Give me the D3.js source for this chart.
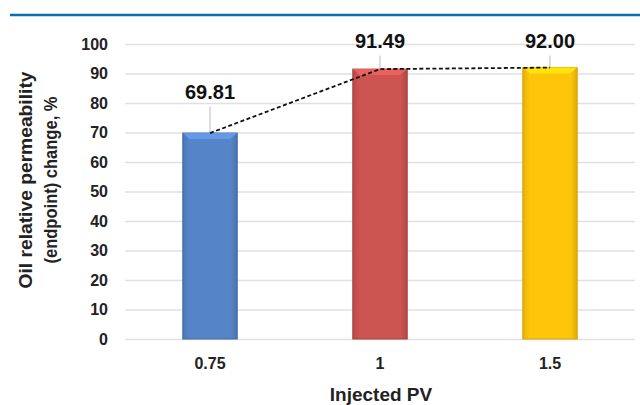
<!DOCTYPE html>
<html><head><meta charset="utf-8">
<script src="https://cdn.jsdelivr.net/npm/d3@7"></script>
<style>body{margin:0;background:#fff}svg{display:block}</style>
</head><body>
<script>
const categories = ["0.75", "1", "1.5"];
const values = [69.81, 91.49, 92.00];
const labels = ["69.81", "91.49", "92.00"];
const yTicks = [0, 10, 20, 30, 40, 50, 60, 70, 80, 90, 100];
const barColors = ["#5585c8", "#cc5451", "#ffc50a"];
const barDark = ["#3b68a8", "#a83e3b", "#d9a300"];

const W = 640, H = 405;
const svg = d3.select("body").append("svg").attr("width", W).attr("height", H)
  .style("font-family", "'Liberation Sans', Arial, sans-serif");

svg.append("line").attr("x1", 10).attr("x2", 640).attr("y1", 15).attr("y2", 15)
  .attr("stroke", "#0a6eb4").attr("stroke-width", 2.5);

const x = d3.scaleBand().domain(categories).range([125, 635]).paddingInner(0.68).paddingOuter(0.34);
const y = d3.scaleLinear().domain([0, 100]).range([339, 44]);

// gridlines
const yAxis = d3.axisLeft(y).tickValues(yTicks).tickSize(-(635 - 125)).tickPadding(17);
const gy = svg.append("g").attr("transform", "translate(125,0)").call(yAxis);
gy.select(".domain").remove();
gy.selectAll(".tick line").attr("stroke", "#e0e0e0").attr("stroke-width", 1.3);
gy.selectAll(".tick text").attr("fill", "#222").style("font-size", "16px").style("font-weight", "bold");

// x axis labels
const xAxis = d3.axisBottom(x).tickSize(0).tickPadding(19);
const gx = svg.append("g").attr("transform", "translate(0,339)").call(xAxis);
gx.select(".domain").remove();
gx.selectAll(".tick text").attr("fill", "#222").style("font-size", "16px").style("font-weight", "bold");

// gradients
const defs = svg.append("defs");
barColors.forEach((c, i) => {
  const g = defs.append("linearGradient").attr("id", "g" + i).attr("x1", 0).attr("x2", 1).attr("y1", 0).attr("y2", 0);
  g.append("stop").attr("offset", "0%").attr("stop-color", d3.color(c).darker(0.3));
  g.append("stop").attr("offset", "12%").attr("stop-color", c);
  g.append("stop").attr("offset", "88%").attr("stop-color", c);
  g.append("stop").attr("offset", "100%").attr("stop-color", d3.color(c).darker(0.4));
});

const bars = svg.append("g").selectAll("g").data(values).join("g");
bars.append("rect")
  .attr("x", (d, i) => x(categories[i]))
  .attr("y", d => y(d))
  .attr("width", x.bandwidth())
  .attr("height", d => y(0) - y(d))
  .attr("fill", (d, i) => `url(#g${i})`)
  .attr("stroke", (d, i) => barDark[i]).attr("stroke-width", 1);
// bevel top
bars.append("path")
  .attr("d", (d, i) => {
    const x0 = x(categories[i]), x1 = x0 + x.bandwidth(), t = y(d);
    return `M${x0},${t}L${x1},${t}L${x1 - 7},${t + 6}L${x0 + 7},${t + 6}Z`;
  })
  .attr("fill", (d, i) => d3.color(barColors[i]).brighter(0.5)).attr("opacity", 0.8);

// leader lines
const labelY = [91.5, 40.5, 40.5];
svg.append("g").selectAll("line").data(values).join("line")
  .attr("x1", (d, i) => x(categories[i]) + x.bandwidth() / 2)
  .attr("x2", (d, i) => x(categories[i]) + x.bandwidth() / 2)
  .attr("y1", (d, i) => labelY[i] + 15)
  .attr("y2", d => y(d))
  .attr("stroke", "#bbb").attr("stroke-width", 1);

// dashed line
const line = d3.line().x((d, i) => x(categories[i]) + x.bandwidth() / 2).y(d => y(d));
svg.append("path").datum(values).attr("d", line)
  .attr("fill", "none").attr("stroke", "#111").attr("stroke-width", 1.8).attr("stroke-dasharray", "4,2.5");

// value labels
svg.append("g").selectAll("text").data(labels).join("text")
  .attr("x", (d, i) => x(categories[i]) + x.bandwidth() / 2)
  .attr("y", (d, i) => labelY[i])
  .attr("dy", "0.35em").attr("text-anchor", "middle")
  .attr("fill", "#111").style("font-size", "20px").style("font-weight", "bold")
  .text(d => d);

// axis titles
svg.append("text").attr("x", 381).attr("y", 401).attr("text-anchor", "middle")
  .attr("fill", "#222").style("font-size", "19px").style("font-weight", "bold").text("Injected PV");
const yt = svg.append("text").attr("transform", "translate(0,180) rotate(-90)")
  .attr("text-anchor", "middle").attr("fill", "#222").style("font-size", "19px").style("font-weight", "bold");
yt.append("tspan").attr("x", 0).attr("y", 32).attr("textLength", 217).attr("lengthAdjust", "spacingAndGlyphs").text("Oil relative permeability");
yt.append("tspan").attr("x", 0).attr("y", 57).attr("textLength", 167).attr("lengthAdjust", "spacingAndGlyphs").text("(endpoint) change, %");
</script>
</body></html>
